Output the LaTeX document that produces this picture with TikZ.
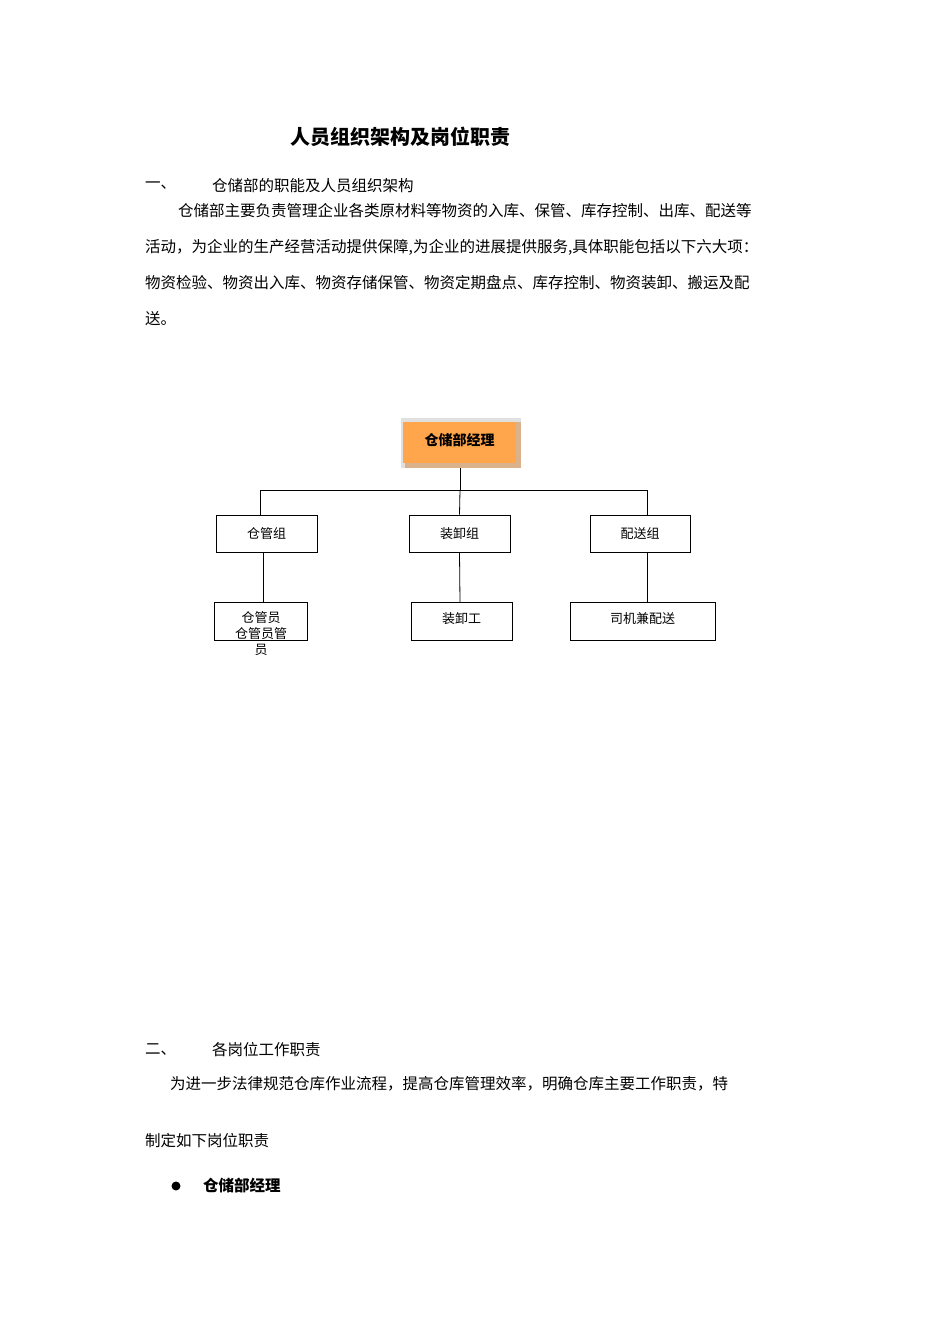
\documentclass[tikz,border=0pt]{standalone}
\usepackage{fontspec}
\setmainfont{Noto Sans CJK SC}
\begin{document}
\begin{tikzpicture}[x=1pt,y=-1pt,
  txt/.style={anchor=west,inner sep=0pt,font=\fontsize{15.5}{16}\selectfont},
  small/.style={font=\fontsize{13}{14}\selectfont},
  bx/.style={draw,thick,inner sep=0pt,small}]
\useasboundingbox[fill=white] (0,0) rectangle (950,1344);
\node[inner sep=0pt,font=\fontsize{20}{22}\selectfont\bfseries] (title) at (400,137) {人员组织架构及岗位职责};
\node[txt] (s1a) at (145,186) {一、};
\node[txt] (s1b) at (212,186) {仓储部的职能及人员组织架构};
\node[txt] (p1) at (178,211) {仓储部主要负责管理企业各类原材料等物资的入库、保管、库存控制、出库、配送等};
\node[txt,text width=660pt,align=justify] (p2) at (145,247) {活动，为企业的生产经营活动提供保障,为企业的进展提供服务,具体职能包括以下六大项：};
\node[txt] (p3) at (145,283) {物资检验、物资出入库、物资存储保管、物资定期盘点、库存控制、物资装卸、搬运及配};
\node[txt] (p4) at (145,319) {送。};
% chart
\fill[black!12] (401,418) rectangle (521,468);
\fill[brown!60] (405,463) rectangle (521,468);
\fill[brown!60] (516,422) rectangle (521,468);
\node[fill=orange!70!white,minimum width=113pt,minimum height=41pt,inner sep=0pt,anchor=north west,font=\fontsize{14}{15}\selectfont\bfseries] (mgr) at (403,422) {\raisebox{6pt}{仓储部经理}};
\coordinate (mgrb) at (460,468);
\coordinate (j) at (460,490);
\node[bx,minimum width=101pt,minimum height=37pt] (g1) at (266.5,533.5) {仓管组};
\node[bx,minimum width=101pt,minimum height=37pt] (g2) at (459.5,533.5) {装卸组};
\node[bx,minimum width=100pt,minimum height=37pt] (g3) at (640,533.5) {配送组};
\node[bx,minimum width=93pt,minimum height=38pt] (w1) at (260.5,621) {};
\node[inner sep=0pt,small,align=center,font=\fontsize{13}{16}\selectfont] (w1t) at (261,634) {仓管员\\仓管员管\\员};
\node[bx,minimum width=101pt,minimum height=38pt] (w2) at (461.5,621) {\raisebox{6pt}{装卸工}};
\node[bx,minimum width=145pt,minimum height=38pt] (w3) at (642.5,621) {\raisebox{6pt}{司机兼配送}};
\draw[thick] (mgrb) -- (j);
\draw[thick] (260,515) -- (260,490) -- (647,490) -- (647,515);
\draw[thick] (j) -- (g2.north);
\draw[thick] (263,552) -- (263,602);
\draw[thick] (g2.south) -- (460,602);
\draw[thick] (647,552) -- (647,602);
% section 2
\node[txt] (s2a) at (145,1050) {二、};
\node[txt] (s2b) at (212,1050) {各岗位工作职责};
\node[txt] (q1) at (170,1084) {为进一步法律规范仓库作业流程，提高仓库管理效率，明确仓库主要工作职责，特};
\node[txt] (q2) at (145,1141) {制定如下岗位职责};
\fill (176,1186) circle (4.5pt);
\node[txt,font=\fontsize{15.5}{16}\selectfont\bfseries] (q3) at (203,1186) {仓储部经理};
\end{tikzpicture}
\end{document}
